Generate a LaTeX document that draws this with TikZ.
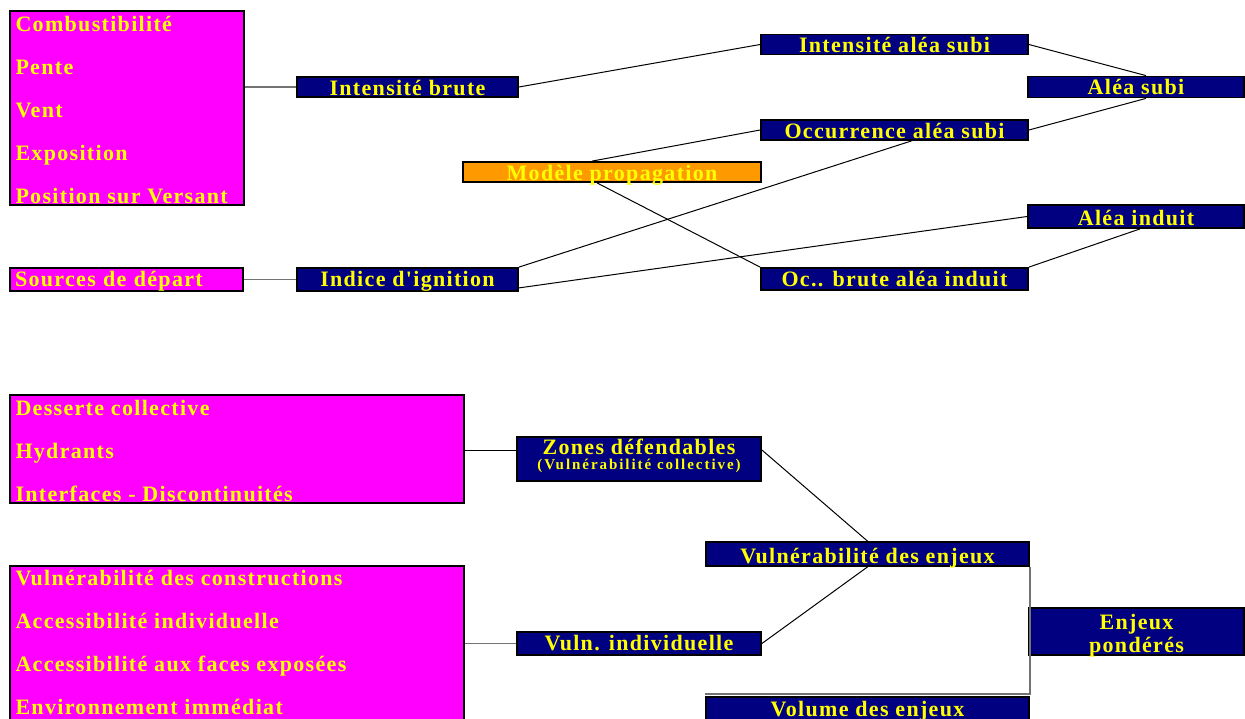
\documentclass[tikz,border=0pt]{standalone}
\usepackage{fontspec}
\newfontfamily\lbfont{Liberation Serif}[LetterSpace=6]
\usepackage{tikz}
\usetikzlibrary{positioning,calc}
\definecolor{navyblue}{RGB}{0,0,128}
\definecolor{pinkfill}{RGB}{255,0,255}
\definecolor{orangefill}{RGB}{255,153,0}
\definecolor{txtyellow}{RGB}{255,255,0}
\tikzstyle{boxbase} = [draw=black,
                       line width=0.9pt,
                       inner sep=0pt,
                       text=txtyellow,
                       font=\lbfont\bfseries\fontsize{11pt}{13pt}\selectfont]
\tikzstyle{navybox}   = [boxbase, fill=navyblue, align=center]
\tikzstyle{orangebox} = [boxbase, fill=orangefill]
\tikzstyle{pinkbox}   = [boxbase, fill=pinkfill]
\tikzstyle{pinktxt}   = [anchor=base west,
                         inner sep=0pt,
                         text=txtyellow,
                         font=\lbfont\bfseries\fontsize{11pt}{13pt}\selectfont]
\tikzstyle{conn}     = [black, line width=0.5pt]
\tikzstyle{greyline} = [black!55, line width=0.7pt]
\tikzset{hd/.style 2 args={text height=#1, text depth=#2}}

\begin{document}
\begin{tikzpicture}[x=0.5pt, y=-0.5pt]
  \useasboundingbox (0,0) rectangle (1245,718);
  \clip (0,0) rectangle (1245,718);

  % Nodes (aléa)
  \node[pinkbox, minimum width=117pt, minimum height=97pt] (facteurs) at (127,108) {};
  \foreach \t [count=\i] in {Combustibilité, Pente, Vent, Exposition, Position sur Versant}
    \node[pinktxt] (f\i) at ([xshift=3pt, yshift={-10.5pt-(\i-1)*21.5pt}]facteurs.north west) {\t};

  \node[navybox, minimum width=110.5pt, hd={9pt}{1pt}] (ibrute) at (407.5,87) {Intensité brute};
  \node[navybox, minimum width=133.5pt, hd={9pt}{1pt}] (ialea) at (894.5,44.5) {Intensité aléa subi};
  \node[navybox, minimum width=108pt, hd={9pt}{1.5pt}] (aleasubi) at (1136,87) {Aléa subi};
  \node[navybox, minimum width=133.5pt, hd={9pt}{1pt}] (occsubi) at (894.5,130) {Occurrence aléa subi};
  \node[orangebox, minimum width=149pt, hd={9pt}{1pt}] (modele) at (612,172) {Modèle propagation};
  \node[navybox, minimum width=108pt, hd={10pt}{1.5pt}] (aleainduit) at (1136,216.5) {Aléa induit};

  \node[pinkbox, text width=111.5pt, inner xsep=2.5pt, align=left, hd={9pt}{2.5pt}] (sources) at (126.5,279.5) {Sources de départ};
  \node[navybox, minimum width=110.5pt, hd={9pt}{2.5pt}] (ignition) at (407.5,279.5) {Indice d'ignition};
  \node[navybox, minimum width=133.5pt, hd={9pt}{2pt}] (ocbrute) at (894.5,279) {Oc.. brute aléa induit};

  % Nodes (enjeux)
  \node[pinkbox, minimum width=227pt, minimum height=54pt] (desserte) at (237,449) {};
  \foreach \t [count=\i] in {Desserte collective, Hydrants, Interfaces - Discontinuités}
    \node[pinktxt] (d\i) at ([xshift=3pt, yshift={-10.5pt-(\i-1)*21.5pt}]desserte.north west) {\t};

  \node[pinkbox, minimum width=227pt, minimum height=78pt] (constr) at (237,644) {};
  \foreach \t [count=\i] in {Vulnérabilité des constructions, Accessibilité individuelle,
                             Accessibilité aux faces exposées, Environnement immédiat}
    \node[pinktxt] (c\i) at ([xshift=3pt, yshift={-10pt-(\i-1)*21.5pt}]constr.north west) {\t};

  \node[navybox, minimum width=122pt, hd={16.2pt}{5.8pt}] (zones) at (639,459)
    {Zones défendables\\[-5.7pt]{\fontsize{7.5pt}{9pt}\selectfont\addfontfeature{LetterSpace=13}(Vulnérabilité collective)}};
  \node[navybox, minimum width=161.5pt, hd={10.5pt}{1.5pt}] (vulnenj) at (867.5,554) {Vulnérabilité des enjeux};
  \node[navybox, minimum width=122pt, hd={9pt}{2.5pt}] (vulnind) at (639,643.5) {Vuln. individuelle};
  \node[navybox, minimum width=107.5pt, hd={22.25pt}{1.25pt}] (enjeux) at (1136.5,631.5) {Enjeux\\[-1.25pt]pondérés};
  \node[navybox, minimum width=161.5pt, hd={9.5pt}{3.5pt}] (volume) at (867.5,710) {Volume des enjeux};

  \coordinate (zin) at ([yshift=4.5pt]zones.west);
  \coordinate (zout) at ([yshift=4.5pt]zones.east);

  % Edges
  \draw[greyline] (ibrute.west -| facteurs.east) -- (ibrute.west);
  \draw[conn] (ibrute.east) -- (ialea.west);
  \draw[conn] (ialea.east) -- ([xshift=5pt]aleasubi.north);
  \draw[conn] (occsubi.east) -- ([xshift=5pt]aleasubi.south);
  \draw[conn] ([xshift=-10pt]modele.north) -- (occsubi.west);
  \draw[conn] ([xshift=-7.5pt]modele.south) -- (ocbrute.north west);
  \draw[conn] (ignition.north east) -- ([xshift=8.5pt]occsubi.south);
  \draw[conn] ([yshift=2pt]ignition.south east) -- (aleainduit.west);
  \draw[conn] (ocbrute.north east) -- ([xshift=2pt]aleainduit.south);
  \draw[greyline] (sources.east) -- (ignition.west);

  \draw[conn] (zin -| desserte.east) -- (zin);
  \draw[conn] (zout) -- (vulnenj.north);
  \draw[conn] (vulnind.east) -- (vulnenj.south);
  \draw[greyline] (vulnind.west -| constr.east) -- (vulnind.west);
  \draw[greyline] (vulnenj.south east) |- ([yshift=1pt]volume.north west);

\end{tikzpicture}
\end{document}
